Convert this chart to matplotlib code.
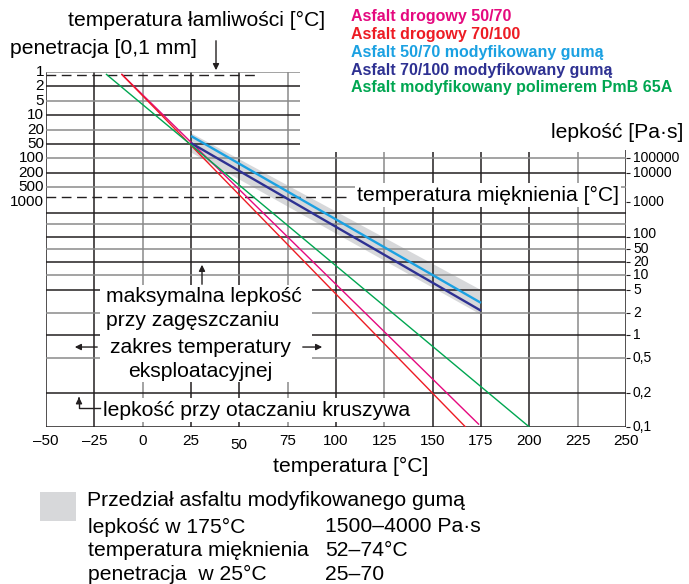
import matplotlib
matplotlib.use("Agg")
import matplotlib.pyplot as plt
from matplotlib.patches import Polygon, Rectangle
import numpy as np

plt.rcParams['font.family'] = ['Liberation Sans', 'DejaVu Sans']

# --- scales of the nomograph (value -> chart row, rows grow downwards) ---
PEN_VALUES = [1, 2, 5, 10, 20, 50, 100, 200, 500, 1000]
PEN_ROWS = [0, 1, 2, 3, 4, 5, 6, 7, 8, 9]
VISC_VALUES = [1e5, 1e4, 1e3, 500, 200, 100, 50, 20, 10, 5, 2, 1, 0.5, 0.2, 0.1]
VISC_ROWS = [6.0, 7.0, 9.0, 9.8, 10.56, 11.46, 12.29, 13.19, 14.10, 15.14, 16.74, 18.26, 19.86, 22.29, 24.65]
VISC_LABELS = ['100000', '10000', '1000', '', '', '100', '50', '20', '10', '5', '2', '1', '0,5', '0,2', '0,1']
TEMP_TICKS = [-50, -25, 0, 25, 50, 75, 100, 125, 150, 175, 200, 225, 250]
TEMP_LABELS = ['\u201350', '\u201325', '0', '25', '50', '75', '100', '125', '150', '175', '200', '225', '250']

# --- binder lines: start given by penetration, end by viscosity ---
NAMES = ['Asfalt drogowy 50/70', 'Asfalt drogowy 70/100', 'Asfalt 50/70 modyfikowany gumą',
         'Asfalt 70/100 modyfikowany gumą', 'Asfalt modyfikowany polimerem PmB 65A']
COLORS = ['#e5097f', '#ed1c24', '#1ba1e2', '#2e3192', '#00a651']
T_START = [-11, -11, 25, 25, -19]
PEN_START = [1.1, 1.1, 30, 47, 1.1]
T_END = [174, 167, 175, 175, 200]
VISC_END = [0.105, 0.1, 3.0, 2.2, 0.1]
WIDTHS = [1.0, 1.0, 1.7, 1.7, 1.0]

# rubber modified band
BAND_T = [25, 175]
BAND_PEN = [25, 75]      # at 25 degC
BAND_VISC = [5.0, 1.9]   # at 175 degC

ROW_BOTTOM = VISC_ROWS[-1]
BLACK = '#231f20'
GREY = '#8a8a8a'


def pen_row(p):
    return np.interp(np.log10(p), np.log10(PEN_VALUES), PEN_ROWS)


def visc_row(v):
    return np.interp(np.log10(v), np.log10(VISC_VALUES[::-1]), VISC_ROWS[::-1])


def t_of(px):
    return (px - 46) / 580 * 300 - 50


def r_of(py):
    return (py - 72) / 14.4


fig = plt.figure(figsize=(6.89, 5.84), dpi=100)
ax = fig.add_axes([46 / 689, 157 / 584, 580 / 689, 355 / 584])
ax.set_xlim(-50, 250)
ax.set_ylim(ROW_BOTTOM, 0)
ax.axis('off')

BIG = 15.2
SMALL = 11

# grid - vertical
vcols = [BLACK, BLACK, GREY, BLACK, BLACK, GREY, BLACK, GREY, BLACK, BLACK, BLACK, GREY, BLACK]
for t, c in zip(TEMP_TICKS, vcols):
    if t <= 75:
        top = 0
    elif t < 250:
        top = r_of(152)
    else:
        top = r_of(150)
    ax.vlines(t, top, ROW_BOTTOM, color=c, lw=1.1, zorder=2)

# grid - horizontal, penetration part
for i, r in enumerate(PEN_ROWS[:9]):
    c = GREY if i % 2 == 0 else BLACK
    right = t_of(300) if r <= 5 else 250
    ax.hlines(r, -50, right, color=c, lw=1.1, zorder=2)

# grid - horizontal, viscosity part
for i, (v, r) in enumerate(zip(VISC_VALUES, VISC_ROWS)):
    if v >= 1000:
        continue
    c = BLACK if i % 2 == 1 else GREY
    if v == 0.1:
        c = BLACK
    ax.hlines(r, -50, 250, color=c, lw=1.1, zorder=2)

# penetration labels (left)
for p, r in zip(PEN_VALUES, PEN_ROWS):
    ax.text(-51, r, str(p), ha='right', va='center', fontsize=SMALL, clip_on=False)

# viscosity labels (right); the crowded 100 label sits a touch higher
for lab, r in zip(VISC_LABELS, VISC_ROWS):
    if lab == '':
        continue
    ax.hlines(r, 250, 252, color=BLACK, lw=0.8, clip_on=False)
    dy = -0.2 if lab == '100' else 0
    ax.text(253.6, r + dy, lab, ha='left', va='center', fontsize=10, clip_on=False)

# temperature labels
for t, lab in zip(TEMP_TICKS, TEMP_LABELS):
    y = r_of(441) if t != 50 else r_of(445)
    ax.text(t, y, lab, ha='center', va='center', fontsize=SMALL, clip_on=False)

# band
band = Polygon([(BAND_T[0], pen_row(BAND_PEN[0])), (BAND_T[1], visc_row(BAND_VISC[0])),
                (BAND_T[1], visc_row(BAND_VISC[1])), (BAND_T[0], pen_row(BAND_PEN[1]))],
               closed=True, facecolor='#d7d8da', edgecolor='none', zorder=1)
ax.add_patch(band)

# binder lines
for name, c, t0, p0, t1, v1, w in zip(NAMES, COLORS, T_START, PEN_START, T_END, VISC_END, WIDTHS):
    ax.plot([t0, t1], [pen_row(p0), visc_row(v1)], color=c, lw=w, zorder=4, solid_capstyle='butt')

# dashed reference lines
ax.hlines(r_of(75), -50, t_of(258), color=BLACK, lw=1.0, linestyles=(0, (7, 4)), zorder=3)
ax.hlines(r_of(196.7), -50, t_of(350), color=BLACK, lw=1.0, linestyles=(0, (7, 4)), zorder=3)

# annotations
ax.annotate('', xy=(t_of(216), r_of(73)), xytext=(t_of(216), r_of(38)),
            arrowprops=dict(arrowstyle='-|>', color=BLACK, lw=1.0, mutation_scale=9),
            annotation_clip=False)
ax.text(t_of(357), r_of(195), 'temperatura mięknienia [°C]', ha='left', va='center', fontsize=BIG,
        bbox=dict(facecolor='white', edgecolor='none', pad=1.5), zorder=5)

ax.add_patch(Rectangle((t_of(100), r_of(285)), t_of(312) - t_of(100), r_of(382) - r_of(285),
                       facecolor='white', edgecolor='none', zorder=3))
ax.text(t_of(106), r_of(296), 'maksymalna lepkość', ha='left', va='center', fontsize=BIG, zorder=5)
ax.text(t_of(106), r_of(320), 'przy zagęszczaniu', ha='left', va='center', fontsize=BIG, zorder=5)
ax.text(t_of(200), r_of(347), 'zakres temperatury', ha='center', va='center', fontsize=BIG, zorder=5)
ax.text(t_of(200), r_of(371), 'eksploatacyjnej', ha='center', va='center', fontsize=BIG, zorder=5)
ax.annotate('', xy=(t_of(202), visc_row(20)), xytext=(t_of(202), r_of(287)),
            arrowprops=dict(arrowstyle='-|>', color=BLACK, lw=1.0, mutation_scale=9), zorder=5)
ax.annotate('', xy=(t_of(72), r_of(347)), xytext=(t_of(100), r_of(347)),
            arrowprops=dict(arrowstyle='-|>', color=BLACK, lw=1.0, mutation_scale=9), zorder=5)
ax.annotate('', xy=(t_of(325), r_of(347)), xytext=(t_of(300), r_of(347)),
            arrowprops=dict(arrowstyle='-|>', color=BLACK, lw=1.0, mutation_scale=9), zorder=5)

ax.text(t_of(103), r_of(410), 'lepkość przy otaczaniu kruszywa', ha='left', va='center', fontsize=BIG,
        bbox=dict(facecolor='white', edgecolor='none', pad=1.5), zorder=5)
ax.plot([t_of(100), t_of(79), t_of(79)], [r_of(408), r_of(408), r_of(400)], color=BLACK, lw=1.0, zorder=5)
ax.annotate('', xy=(t_of(79), visc_row(0.2) + 0.1), xytext=(t_of(79), r_of(401)),
            arrowprops=dict(arrowstyle='-|>', color=BLACK, lw=1.0, mutation_scale=9), zorder=5)


def fx(px):
    return px / 689


def fy(py):
    return 1 - py / 584


fig.text(fx(68), fy(20), 'temperatura łamliwości [°C]', ha='left', va='center', fontsize=BIG)
fig.text(fx(10), fy(48), 'penetracja [0,1 mm]', ha='left', va='center', fontsize=BIG)
fig.text(fx(683), fy(133), 'lepkość [Pa·s]', ha='right', va='center', fontsize=BIG)
fig.text(fx(351), fy(466), 'temperatura [°C]', ha='center', va='center', fontsize=BIG)

for i, (name, c) in enumerate(zip(NAMES, COLORS)):
    fig.text(fx(351), fy(16 + 18 * i), name, ha='left', va='center', fontsize=11.5,
             fontweight='bold', color=c)

# bottom legend
fig.patches.append(Rectangle((fx(40), fy(521)), 36 / 689, 29 / 584, transform=fig.transFigure,
                             facecolor='#d7d8da', edgecolor='none'))
fig.text(fx(87), fy(500), 'Przedział asfaltu modyfikowanego gumą', ha='left', va='center', fontsize=BIG)
LEG_ROWS = [('lepkość w 175°C', '1500–4000 Pa·s'),
            ('temperatura mięknienia', '52–74°C'),
            ('penetracja  w 25°C', '25–70')]
for i, (a, b) in enumerate(LEG_ROWS):
    y = fy(527 + 23.5 * i)
    fig.text(fx(88), y, a, ha='left', va='center', fontsize=BIG)
    fig.text(fx(325), y, b, ha='left', va='center', fontsize=BIG)

fig.savefig('out.png', dpi=100)
plt.close(fig)
